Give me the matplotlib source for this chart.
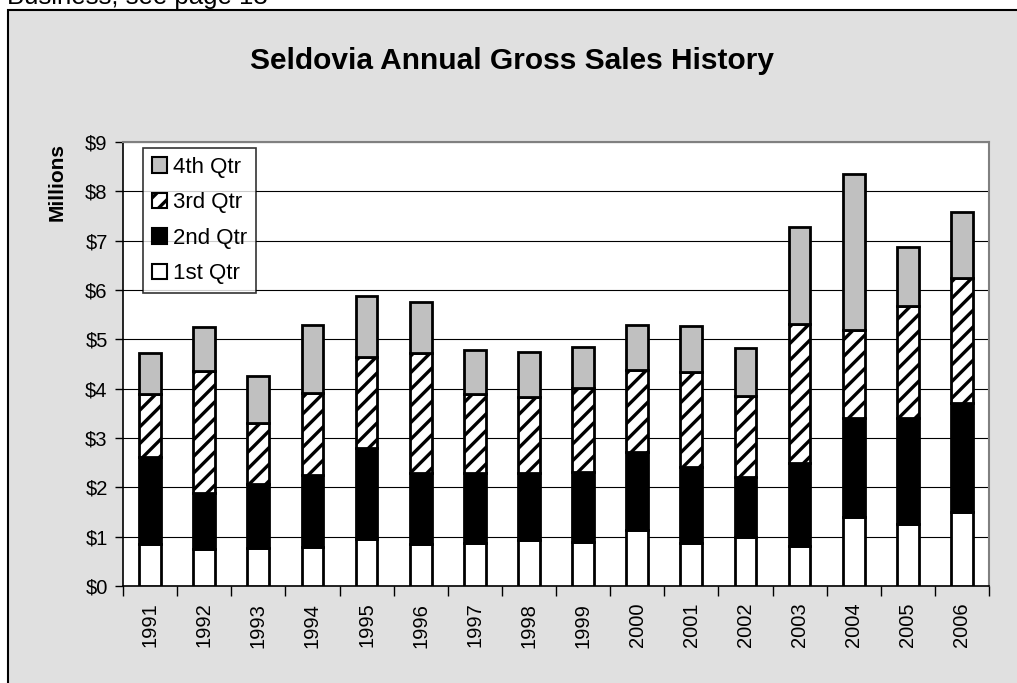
import matplotlib
matplotlib.use("Agg")
import matplotlib.pyplot as plt
from matplotlib.patches import Rectangle, Patch

plt.rcParams['font.family'] = ['Liberation Sans', 'DejaVu Sans']
plt.rcParams['hatch.linewidth'] = 2.4

# Annual gross sales by quarter (millions of dollars)
years = ['1991', '1992', '1993', '1994', '1995', '1996', '1997', '1998',
         '1999', '2000', '2001', '2002', '2003', '2004', '2005', '2006']
q1 = [0.85, 0.74, 0.78, 0.80, 0.95, 0.85, 0.88, 0.93, 0.89, 1.14, 0.88, 0.99, 0.82, 1.39, 1.25, 1.51]
q2 = [1.77, 1.15, 1.28, 1.44, 1.84, 1.45, 1.42, 1.37, 1.43, 1.57, 1.53, 1.21, 1.68, 2.02, 2.16, 2.20]
q3 = [1.27, 2.46, 1.25, 1.68, 1.86, 2.42, 1.59, 1.54, 1.69, 1.67, 1.92, 1.66, 2.81, 1.78, 2.27, 2.53]
q4 = [0.83, 0.89, 0.95, 1.37, 1.22, 1.03, 0.90, 0.90, 0.84, 0.91, 0.94, 0.96, 1.96, 3.17, 1.20, 1.35]
quarter_names = ['1st Qtr', '2nd Qtr', '3rd Qtr', '4th Qtr']
y_labels = ['$0', '$1', '$2', '$3', '$4', '$5', '$6', '$7', '$8', '$9']

W, H = 1017, 683
fig = plt.figure(figsize=(W / 100, H / 100), dpi=100)
fig.patch.set_facecolor('white')

# gray chart panel, behind the axes
panel = Rectangle((8 / W, -0.1), 1.2, 1.1 - 10 / H, transform=fig.transFigure,
                  facecolor='#e0e0e0', edgecolor='black', linewidth=1.5, zorder=-5)
fig.add_artist(panel)

fig.text(7 / W, 1 - 4 / H, 'Business, see page 13', fontsize=18.5, va='baseline', ha='left')
fig.text(0.503, 1 - 69 / H, 'Seldovia Annual Gross Sales History', fontsize=21.5,
         fontweight='bold', ha='center', va='baseline')
fig.text(57 / W, 1 - 182 / H, 'Millions', fontsize=15, fontweight='bold',
         rotation=90, ha='center', va='center')

ax = fig.add_axes([123 / W, 1 - 586 / H, (989 - 123) / W, (586 - 142) / H])
ax.set_facecolor('white')
ax.set_zorder(2)

x = list(range(len(years)))
styles = [dict(color='white'), dict(color='black'),
          dict(color='white', hatch='//'), dict(color='#c0c0c0')]
bottom = [0.0] * len(years)
handles = []
for vals, name, st in zip([q1, q2, q3, q4], quarter_names, styles):
    ax.bar(x, vals, 0.4, bottom=bottom, edgecolor='black', linewidth=2,
           label=name, zorder=3, **st)
    handles.append(Patch(facecolor=st['color'], hatch=st.get('hatch'),
                         edgecolor='black', linewidth=1.5, label=name))
    bottom = [b + v for b, v in zip(bottom, vals)]

ax.set_xlim(-0.5, len(years) - 0.5)
ax.set_ylim(0, 9)
ax.set_yticks(range(10))
ax.set_yticklabels(y_labels, fontsize=14.5)
ax.yaxis.grid(True, color='black', linewidth=0.8, zorder=0)
ax.set_axisbelow(True)

ax.set_xticks([i - 0.5 for i in range(len(years) + 1)])
ax.set_xticklabels([])
ax.set_xticks(x, minor=True)
ax.set_xticklabels(years, minor=True, rotation=90, fontsize=14.5)
ax.tick_params(axis='x', which='major', length=7, width=1, direction='out')
ax.tick_params(axis='x', which='minor', length=0, pad=12)
ax.tick_params(axis='y', length=6, width=1, direction='out', pad=5)

for side in ['left', 'bottom']:
    ax.spines[side].set_color('black')
    ax.spines[side].set_linewidth(1.2)
for side in ['top', 'right']:
    ax.spines[side].set_color('#808080')
    ax.spines[side].set_linewidth(1.5)

leg = ax.legend(handles=handles[::-1], loc='upper left',
                bbox_to_anchor=(20 / 866, 1 - 6 / 444), borderaxespad=0,
                fontsize=16, frameon=True, fancybox=False, edgecolor='black',
                handlelength=0.7, handleheight=0.7, handletextpad=0.25,
                labelspacing=0.65, borderpad=0.4)
leg.get_frame().set_linewidth(1.2)

fig.savefig('out.png', dpi=100)
